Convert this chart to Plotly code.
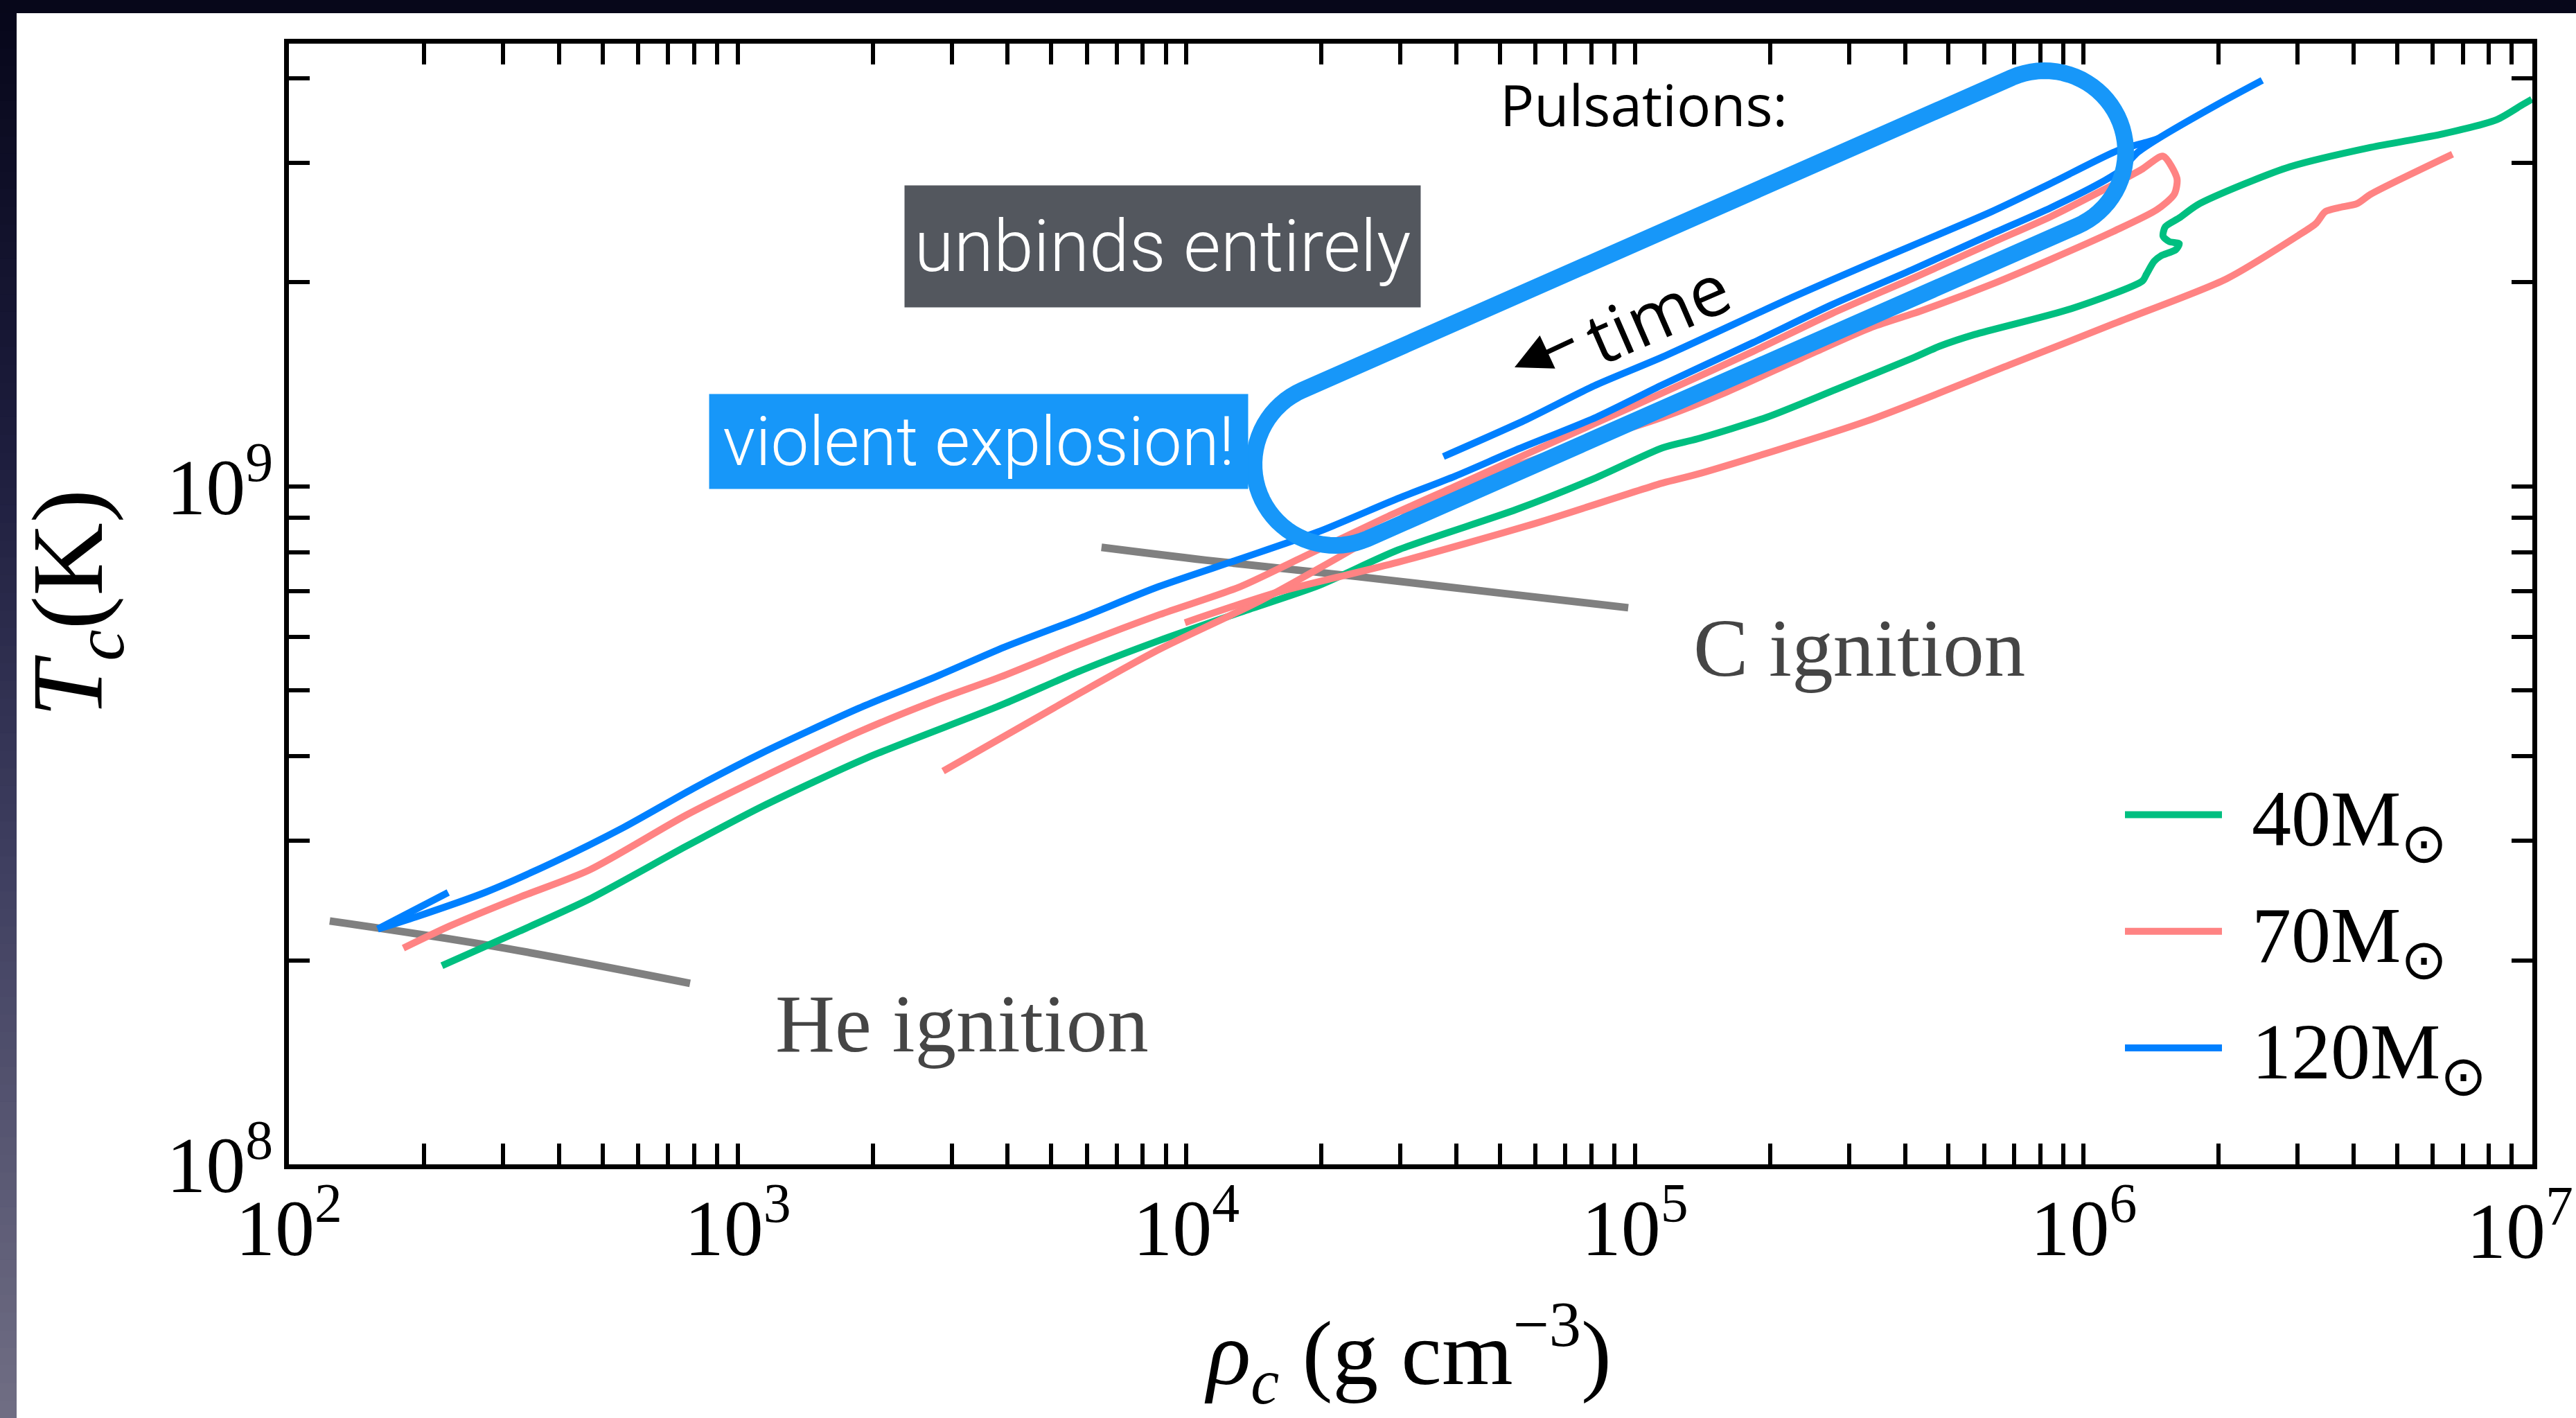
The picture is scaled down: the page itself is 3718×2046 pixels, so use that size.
import numpy as np
import plotly.graph_objects as go

# ---------------------------------------------------------------------------
# Central density / temperature evolution of massive stars.
# Values are log10(rho_c / g cm^-3) and log10(T_c / K).
# ---------------------------------------------------------------------------
he_ign_lrho = [2.091, 2.437, 2.894]
he_ign_lT = [8.359, 8.324, 8.267]

c_ign_lrho = [3.811, 4.045, 4.381, 4.682, 4.985]
c_ign_lT = [8.910, 8.891, 8.867, 8.844, 8.821]

# 40 Msun
m40_lrho = [2.341, 2.514, 2.669, 2.885, 3.055, 3.286, 3.586, 3.764, 3.941, 4.119,
            4.296, 4.471, 4.736, 4.914, 5.062, 5.139, 5.294, 5.448, 5.618, 5.680,
            5.757, 5.972, 6.131, 6.140, 6.157, 6.172, 6.205, 6.213, 6.191, 6.177,
            6.182, 6.213, 6.253, 6.358, 6.463, 6.640, 6.801, 6.921, 6.978, 6.999]
m40_lT = [8.293, 8.344, 8.391, 8.469, 8.528, 8.599, 8.677, 8.728, 8.773, 8.814,
          8.854, 8.906, 8.966, 9.013, 9.057, 9.070, 9.102, 9.143, 9.189, 9.207,
          9.224, 9.262, 9.303, 9.313, 9.332, 9.340, 9.349, 9.358, 9.361, 9.369,
          9.383, 9.396, 9.415, 9.446, 9.472, 9.500, 9.520, 9.541, 9.563, 9.571]

# 70 Msun: contraction up to the first pulse and the expansion back down
m70a_lrho = [2.255, 2.360, 2.514, 2.669, 2.885, 3.055, 3.271, 3.441, 3.586, 3.765,
             3.941, 4.120, 4.251, 4.444, 4.599, 4.753, 4.908, 5.062, 5.263, 5.439,
             5.616, 5.794, 5.927, 6.043, 6.128, 6.177,
             6.208, 6.202, 6.163, 6.066, 5.927, 5.802, 5.638, 5.529, 5.371, 5.200,
             5.062, 4.824, 4.559, 4.406, 4.167, 3.941, 3.760, 3.458]
m70a_lT = [8.319, 8.352, 8.394, 8.434, 8.515, 8.571, 8.638, 8.684, 8.719, 8.767,
           8.811, 8.852, 8.893, 8.954, 9.000, 9.046, 9.092, 9.138, 9.199, 9.255,
           9.306, 9.359, 9.398, 9.437, 9.467, 9.487,
           9.454, 9.431, 9.408, 9.376, 9.335, 9.300, 9.259, 9.235, 9.189, 9.138,
           9.102, 9.051, 8.985, 8.921, 8.832, 8.760, 8.694, 8.580]
# 70 Msun: final contraction after the pulse
m70b_lrho = [3.997, 4.204, 4.471, 4.781, 5.062, 5.139, 5.515, 5.834, 6.075, 6.318,
             6.478, 6.518, 6.538, 6.568, 6.609, 6.640, 6.822]
m70b_lT = [8.799, 8.844, 8.888, 8.946, 9.005, 9.018, 9.096, 9.179, 9.242, 9.306,
           9.370, 9.388, 9.405, 9.411, 9.417, 9.431, 9.490]

# 120 Msun: short hook at the low-density end
m120_hook_lrho = [2.355, 2.198]
m120_hook_lT = [8.401, 8.347]
# 120 Msun: contraction to the pulsational phase
m120_main_lrho = [2.198, 2.283, 2.437, 2.591, 2.746, 2.900, 3.055, 3.271, 3.441,
                  3.595, 3.765, 3.938, 4.120, 4.298, 4.471, 4.599, 4.736, 4.914,
                  5.062, 5.263, 5.439, 5.616, 5.794, 5.927, 6.033, 6.078, 6.121,
                  6.166, 6.297, 6.398]
m120_main_lT = [8.347, 8.365, 8.401, 8.446, 8.497, 8.554, 8.607, 8.673, 8.719,
                8.763, 8.806, 8.852, 8.893, 8.934, 8.982, 9.015, 9.054, 9.102,
                9.150, 9.212, 9.268, 9.319, 9.372, 9.411, 9.446, 9.464, 9.493,
                9.513, 9.563, 9.599]
# 120 Msun: expansion after the pulse
m120_back_lrho = [6.166, 6.143, 6.078, 5.927, 5.794, 5.525, 5.351, 5.062, 4.908,
                  4.753, 4.573]
m120_back_lT = [9.513, 9.508, 9.496, 9.447, 9.405, 9.329, 9.279, 9.191, 9.148,
                9.097, 9.044]

series_names = ["40M<sub>⊙</sub>", "70M<sub>⊙</sub>", "120M<sub>⊙</sub>"]

x_decades = [2, 3, 4, 5, 6, 7]
y_major = [1e8, 1e9]
y_major_labels = ["10<sup>8</sup>", "10<sup>9</sup>"]
y_minor = [2e8, 3e8, 4e8, 5e8, 6e8, 7e8, 8e8, 9e8, 2e9, 3e9, 4e9]

# ---------------------------------------------------------------------------
W, H = 3718, 2046
ML, MR, MT, MB = 417, 63, 63, 366
PW, PH = W - ML - MR, H - MT - MB

def paper(X, Y):
    """Pixel position on the page -> paper coordinates of the plot area."""
    return (X - ML) / PW, (H - MB - Y) / PH

def arr(v):
    return list(10 ** np.asarray(v, dtype=float))

def joined(*segs):
    out = []
    for i, s in enumerate(segs):
        if i:
            out.append(None)
        out.extend(arr(s))
    return out

GREEN, PINK, BLUE = "#00BF80", "#FF8383", "#0080FF"
HILITE = "#1797F9"
GRAY = "#808080"
SERIF = "Liberation Serif"
SMOOTH = 0.7
TICK_SIZE = 114
LW = 10

# the last decade label sits on the page edge, so it is placed by hand below
x_major = [10.0 ** d for d in x_decades[:-1]]
x_major_labels = [f"10<sup>{d}</sup>" for d in x_decades[:-1]]
x_minor = [m * 10.0 ** d for d in x_decades[:-1] for m in range(2, 10)]

fig = go.Figure()

fig.add_trace(go.Scatter(x=arr(he_ign_lrho), y=arr(he_ign_lT), mode="lines",
                         line=dict(color=GRAY, width=11, shape="spline"),
                         showlegend=False, hoverinfo="skip"))
fig.add_trace(go.Scatter(x=arr(c_ign_lrho), y=arr(c_ign_lT), mode="lines",
                         line=dict(color=GRAY, width=11, shape="spline"),
                         showlegend=False, hoverinfo="skip"))

fig.add_trace(go.Scatter(x=arr(m40_lrho), y=arr(m40_lT), mode="lines",
                         name="\u00a0\u200a" + series_names[0], legendgroup="a",
                         line=dict(color=GREEN, width=LW, shape="spline",
                                   smoothing=SMOOTH)))
fig.add_trace(go.Scatter(x=joined(m70a_lrho, m70b_lrho),
                         y=joined(m70a_lT, m70b_lT), mode="lines",
                         name="\u00a0\u200a" + series_names[1], legendgroup="b",
                         line=dict(color=PINK, width=LW, shape="spline",
                                   smoothing=SMOOTH)))
fig.add_trace(go.Scatter(x=joined(m120_hook_lrho, m120_main_lrho, m120_back_lrho),
                         y=joined(m120_hook_lT, m120_main_lT, m120_back_lT),
                         mode="lines",
                         name="\u00a0\u200a" + series_names[2], legendgroup="c",
                         line=dict(color=BLUE, width=LW, shape="spline",
                                   smoothing=SMOOTH)))

# ---- page frame: dark strip on top, shaded strip on the left ---------------
shapes = []
x0p, _ = paper(0, 0)
x1p, _ = paper(W, 0)
_, ytop0 = paper(0, 0)
_, ytop1 = paper(0, 19)
shapes.append(dict(type="rect", xref="paper", yref="paper", x0=x0p, x1=x1p,
                   y0=ytop1, y1=ytop0, fillcolor="#07071a", line=dict(width=0),
                   layer="below"))
stops = [(0.0, (7, 7, 26)), (0.3, (28, 28, 60)), (0.6, (62, 62, 95)),
         (1.0, (112, 110, 132))]

def grad(t):
    for (t0, c0), (t1, c1) in zip(stops[:-1], stops[1:]):
        if t <= t1:
            f = (t - t0) / (t1 - t0)
            return tuple(int(round(a + (b - a) * f)) for a, b in zip(c0, c1))
    return stops[-1][1]

nb = 80
for i in range(nb):
    ya, yb = 19 + (H - 19) * i / nb, 19 + (H - 19) * (i + 1) / nb
    r, g, b = grad((i + 0.5) / nb)
    xa, ya_p = paper(0, ya)
    xb, yb_p = paper(24, yb)
    shapes.append(dict(type="rect", xref="paper", yref="paper", x0=xa, x1=xb,
                       y0=yb_p - 0.001, y1=ya_p, fillcolor=f"rgb({r},{g},{b})",
                       line=dict(width=0), layer="below"))

# ---- highlighted pulsation region (rounded outline) -------------------------
c1 = np.array([1927.0, 670.0])
c2 = np.array([2951.0, 219.0])
rad = 117.0
u = (c2 - c1) / np.linalg.norm(c2 - c1)
n = np.array([-u[1], u[0]])
pts = []
for ph in np.linspace(-np.pi / 2, np.pi / 2, 40):
    pts.append(c2 + rad * (np.cos(ph) * u + np.sin(ph) * n))
for ph in np.linspace(np.pi / 2, 3 * np.pi / 2, 40):
    pts.append(c1 + rad * (np.cos(ph) * u + np.sin(ph) * n))
path = "M " + " L ".join("%.5f,%.5f" % paper(p[0], p[1]) for p in pts) + " Z"
shapes.append(dict(type="path", xref="paper", yref="paper", path=path,
                   line=dict(color=HILITE, width=24), fillcolor="rgba(0,0,0,0)",
                   layer="above"))

# ---- text annotations --------------------------------------------------------
ann = []

def add_text(text, X, Y, size, color="black", family=SERIF, xanchor="center",
             yanchor="middle", angle=0, **kw):
    px, py = paper(X, Y)
    ann.append(dict(text=text, x=px, y=py, xref="paper", yref="paper",
                    showarrow=False, xanchor=xanchor, yanchor=yanchor,
                    textangle=angle, font=dict(family=family, size=size, color=color),
                    **kw))

add_text("<i>T</i><sub><i>c</i></sub>(K)", 108, 871, 146, angle=-90)
add_text("<i>ρ</i><sub><i>c</i></sub> (g cm<sup>−3</sup>)", 2032, 1952, 132)

# label of the last x decade, right-aligned to the page edge
add_text(f"10<sup>{x_decades[-1]}</sup>", W - 2, 1768, TICK_SIZE, xanchor="right")

add_text("He ignition", 1117, 1477, 119, color="#454545", xanchor="left")
add_text("C ignition", 2442, 935, 119, color="#454545", xanchor="left")

add_text("Pulsations:", 2163, 150, 82, family="Open Sans", xanchor="left")
add_text("time", 2392, 450, 102, family="Open Sans", angle=-23.5)

ann.append(dict(text="unbinds entirely", x=paper(1678, 355.5)[0],
                y=paper(1678, 355.5)[1], xref="paper", yref="paper",
                showarrow=False, xanchor="center", yanchor="middle",
                width=744, height=175, bgcolor="#53575E", borderpad=0,
                font=dict(family="Roboto", size=104, color="white", weight=300)))
ann.append(dict(text="violent explosion!", x=paper(1412.5, 637)[0],
                y=paper(1412.5, 637)[1], xref="paper", yref="paper",
                showarrow=False, xanchor="center", yanchor="middle",
                width=777, height=136, bgcolor=HILITE, borderpad=0,
                font=dict(family="Roboto", size=98, color="white", weight=300)))

# arrow pointing back in time
tipx, tipy = paper(2186, 530)
ann.append(dict(text="", x=tipx, y=tipy, xref="paper", yref="paper",
                showarrow=True, ax=86, ay=-40, axref="pixel", ayref="pixel",
                arrowhead=2, arrowsize=1.5, arrowwidth=7, arrowcolor="black",
                standoff=0, startstandoff=0))

axis_common = dict(type="log", showline=True, linecolor="black", linewidth=7,
                   mirror="ticks", ticks="inside", ticklen=30, tickwidth=6,
                   tickcolor="black", showgrid=False, zeroline=False,
                   tickfont=dict(family=SERIF, size=TICK_SIZE, color="black"),
                   fixedrange=True)

fig.update_layout(
    width=W, height=H,
    margin=dict(l=ML, r=MR, t=MT, b=MB, pad=0),
    paper_bgcolor="white", plot_bgcolor="white",
    xaxis=dict(range=[2, 7], tickmode="array", tickvals=x_major,
               ticktext=x_major_labels, ticklabelstandoff=-13,
               minor=dict(tickmode="array", tickvals=x_minor, ticks="inside",
                          ticklen=30, tickwidth=6, tickcolor="black",
                          showgrid=False),
               **axis_common),
    yaxis=dict(range=[8, 9.653], tickmode="array", tickvals=y_major,
               ticktext=y_major_labels, ticklabelstandoff=-7,
               minor=dict(tickmode="array", tickvals=y_minor, ticks="inside",
                          ticklen=30, tickwidth=6, tickcolor="black",
                          showgrid=False),
               **axis_common),
    legend=dict(x=paper(3062, 0)[0], y=paper(0, 1095)[1], xanchor="left",
                yanchor="top", bgcolor="rgba(0,0,0,0)", borderwidth=0,
                font=dict(family=SERIF, size=114, color="black"),
                itemwidth=140, tracegroupgap=17, traceorder="grouped"),
    shapes=shapes,
    annotations=ann,
    showlegend=True,
)

fig.write_html("out.html")
